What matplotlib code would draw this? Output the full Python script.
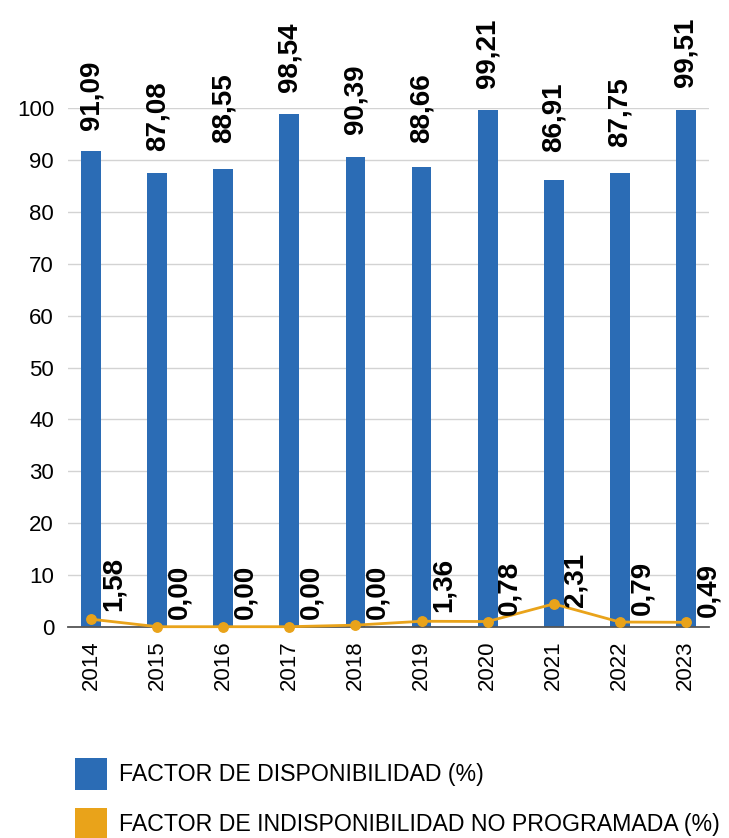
import matplotlib
matplotlib.use("Agg")
import matplotlib.pyplot as plt
from matplotlib.patches import Rectangle

plt.rcParams['font.family'] = ['Liberation Sans', 'DejaVu Sans']

years = ['2014', '2015', '2016', '2017', '2018', '2019', '2020', '2021', '2022', '2023']
# availability: bar heights as drawn in the chart
availability_bars = [91.7, 87.5, 88.2, 98.9, 90.6, 88.7, 99.6, 86.1, 87.5, 99.6]
# availability: printed data labels
availability_labels = [91.09, 87.08, 88.55, 98.54, 90.39, 88.66, 99.21, 86.91, 87.75, 99.51]
# unplanned unavailability: plotted point heights
unavail_points = [1.45, 0.0, 0.0, 0.0, 0.3, 1.05, 1.0, 4.4, 0.9, 0.85]
# unplanned unavailability: printed data labels
unavail_labels = [1.58, 0.00, 0.00, 0.00, 0.00, 1.36, 0.78, 2.31, 0.79, 0.49]
legend_labels = ['FACTOR DE DISPONIBILIDAD (%)',
                 'FACTOR DE INDISPONIBILIDAD NO PROGRAMADA (%)']
yticks = list(range(0, 101, 10))

BLUE = '#2B6CB5'
ORANGE = '#E9A31A'

def fmt(v):
    return f"{v:.2f}".replace('.', ',')

fig = plt.figure(figsize=(7.29, 8.38), dpi=100)
ax = fig.add_axes([68/729, (838-626.7)/838, 641/729, (626.7-108.3)/838])

x = list(range(len(years)))
ax.bar(x, availability_bars, width=0.30, color=BLUE, zorder=2)
ax.plot(x, unavail_points, color=ORANGE, lw=2.0, marker='o', markersize=6.8,
        zorder=3, clip_on=False)

for xi, v in zip(x, availability_labels):
    ax.annotate(fmt(v), (xi, v), xytext=(0, 17.5), textcoords='offset points',
                rotation=90, ha='center', va='bottom', fontsize=20,
                fontweight='bold', annotation_clip=False)

for xi, v in zip(x, unavail_labels):
    ax.annotate(fmt(v), (xi, v), xytext=(16, 5.5), textcoords='offset points',
                rotation=90, ha='center', va='bottom', fontsize=20,
                fontweight='bold', annotation_clip=False, zorder=4)

ax.set_xlim(-0.35, 9.35)
ax.set_ylim(0, 100)
ax.set_yticks(yticks)
ax.set_yticklabels([str(t) for t in yticks], fontsize=16)
ax.set_xticks(x)
ax.set_xticklabels(years, rotation=90, fontsize=16)
ax.tick_params(axis='both', length=0)
ax.tick_params(axis='y', pad=10)
ax.tick_params(axis='x', pad=10)
ax.grid(axis='y', color='#D3D3D3', lw=1.0, zorder=0)
ax.set_axisbelow(True)
for s in ['top', 'right', 'left']:
    ax.spines[s].set_visible(False)
ax.spines['bottom'].set_color('#555555')
ax.spines['bottom'].set_linewidth(1.3)
ax.spines['bottom'].set_zorder(2.5)

# legend
W, H = 729, 838
for i, (lab, col) in enumerate(zip(legend_labels, [BLUE, ORANGE])):
    top = 758 + i * 50
    fig.add_artist(Rectangle((75/W, 1 - (top + 32)/H), 32/W, 32/H,
                             transform=fig.transFigure, color=col, lw=0))
    fig.text(119/W, 1 - (top + 16)/H, lab, fontsize=16.7, va='center', ha='left')

fig.savefig('out.png', dpi=100)
